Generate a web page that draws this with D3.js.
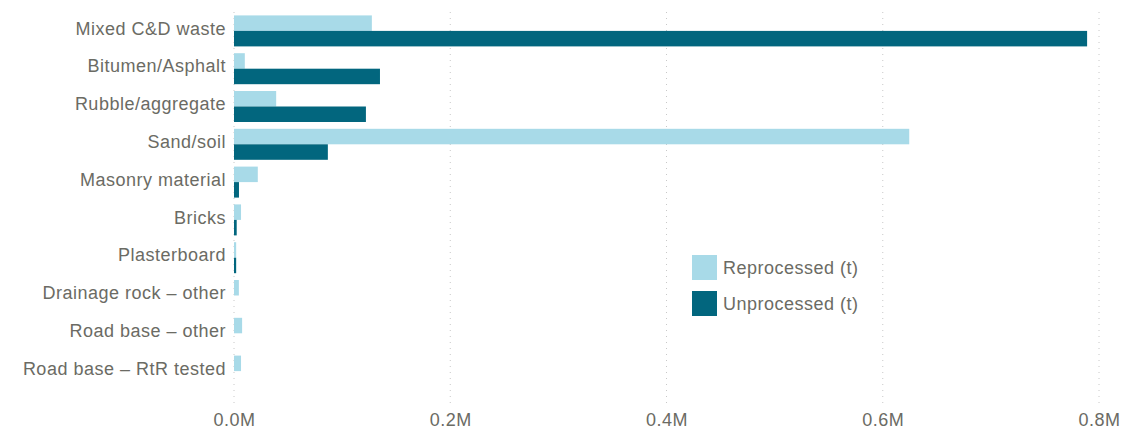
<!DOCTYPE html>
<html>
<head>
<meta charset="utf-8">
<script src="https://cdn.jsdelivr.net/npm/d3@7"></script>
<style>
  body { margin: 0; background: #fff; }
  svg text { font-family: "Liberation Sans", Arial, sans-serif; fill: #6b6b64; letter-spacing: 0.5px; }
</style>
</head>
<body>
<svg id="chart"></svg>
<script>
// chart size
const width = 1126;
const height = 432;

const categories = [
  'Mixed C&D waste', 'Bitumen/Asphalt', 'Rubble/aggregate', 'Sand/soil',
  'Masonry material', 'Bricks', 'Plasterboard', 'Drainage rock – other',
  'Road base – other', 'Road base – RtR tested'
];
const reprocessed = [127500, 10000, 39000, 624500, 22000, 6500, 2000, 4500, 7500, 6500];
const unprocessed = [789000, 135000, 122000, 86800, 4600, 2500, 2000, 0, 0, 0];
const seriesNames = ['Reprocessed (t)', 'Unprocessed (t)'];
const tickValues = [0, 200000, 400000, 600000, 800000];

const colors = ['#a8dae8', '#02667e'];

const svg = d3.select('#chart').attr('width', width).attr('height', height);

const x = d3.scaleLinear().domain([0, 800000]).range([234, 1099]);
const y = d3.scaleBand().domain(categories).range([12, 390])
  .paddingInner(0.18).paddingOuter(0.09);
const sub = d3.scaleBand().domain([0, 1]).range([0, y.bandwidth()]);

// dotted gridlines
svg.append('g').selectAll('line')
  .data(tickValues)
  .join('line')
  .attr('x1', d => x(d)).attr('x2', d => x(d))
  .attr('y1', 12).attr('y2', 408)
  .attr('stroke', '#c8c8c8')
  .attr('stroke-width', 1)
  .attr('stroke-dasharray', '1,5');

const rows = categories.map((c, i) => ({ cat: c, vals: [reprocessed[i], unprocessed[i]] }));

const groups = svg.append('g').selectAll('g')
  .data(rows)
  .join('g')
  .attr('transform', d => `translate(0,${y(d.cat)})`);

groups.selectAll('rect')
  .data(d => d.vals.map((v, k) => ({ v, k })))
  .join('rect')
  .attr('x', x(0))
  .attr('y', d => sub(d.k))
  .attr('width', d => x(d.v) - x(0))
  .attr('height', sub.bandwidth())
  .attr('fill', d => colors[d.k]);

// category labels
const yAxis = d3.axisLeft(y).tickSize(0).tickPadding(8);
svg.append('g')
  .attr('transform', `translate(${x(0)},0)`)
  .call(yAxis)
  .call(g => g.select('.domain').remove())
  .call(g => g.selectAll('text').attr('font-size', 18).attr('dy', '0.2em')
    .style('font-family', '"Liberation Sans", Arial, sans-serif'));

// value axis
const xAxis = d3.axisBottom(x).tickValues(tickValues).tickSize(0).tickPadding(0)
  .tickFormat(d => d3.format('.1f')(d / 1e6) + 'M');
svg.append('g')
  .attr('transform', 'translate(0,413)')
  .call(xAxis)
  .call(g => g.select('.domain').remove())
  .call(g => g.selectAll('text').attr('font-size', 18)
    .style('font-family', '"Liberation Sans", Arial, sans-serif'));

// legend
const legend = svg.append('g').attr('transform', 'translate(692,255)');
const items = legend.selectAll('g')
  .data(seriesNames)
  .join('g')
  .attr('transform', (d, i) => `translate(0,${i * 36})`);
items.append('rect').attr('width', 25).attr('height', 25).attr('fill', (d, i) => colors[i]);
items.append('text').attr('x', 31).attr('y', 13).attr('dy', '0.35em')
  .attr('font-size', 18).text(d => d);
</script>
</body>
</html>
